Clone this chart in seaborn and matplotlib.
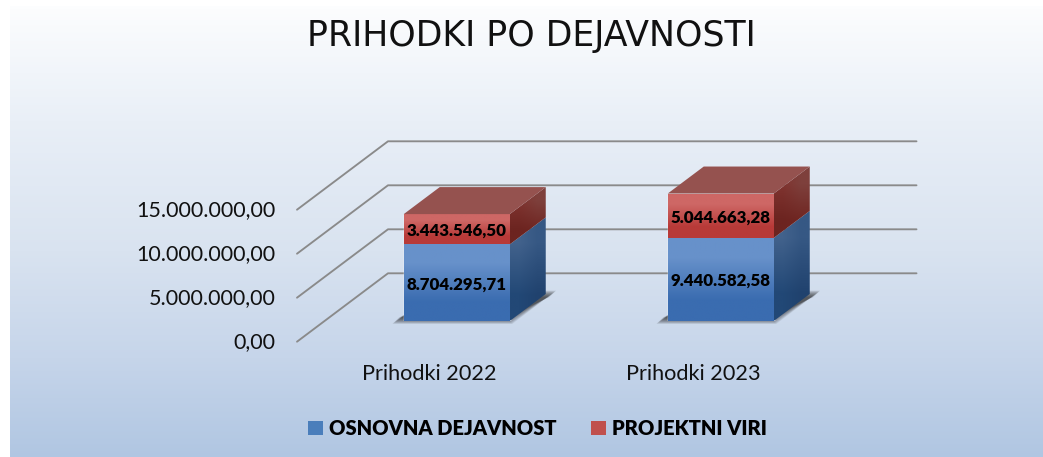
import numpy as np
import pandas as pd
import matplotlib
matplotlib.use('Agg')
import matplotlib.pyplot as plt
from matplotlib.patches import Polygon
from matplotlib.transforms import ScaledTranslation
import seaborn as sns

years = ['Prihodki 2022', 'Prihodki 2023']
osnovna = [8704295.71, 9440582.58]
projektni = [3443546.50, 5044663.28]
osnovna_txt = ['8.704.295,71', '9.440.582,58']
projektni_txt = ['3.443.546,50', '5.044.663,28']
y_ticks = [0, 5000000, 10000000, 15000000]
y_labels = ['0,00', '5.000.000,00', '10.000.000,00', '15.000.000,00']

sns.set_theme(style='white')
plt.rcParams['font.family'] = ['Lato', 'DejaVu Sans']

W, H = 1043, 457
fig = plt.figure(figsize=(W / 100, H / 100), dpi=100)

# background gradient
bg = fig.add_axes([0, 0, 1, 1], zorder=-1)
bg.axis('off')
rows = np.arange(H)
stops_y = [0, 8, 120, 250, 357, 457]
stops_c = np.array([[255, 255, 255], [252, 253, 254], [233, 239, 247],
                    [217, 227, 240], [198, 213, 234], [176, 198, 226]]) / 255
grad = np.stack([np.interp(rows, stops_y, stops_c[:, i]) for i in range(3)], axis=1)
grad = np.repeat(grad[:, None, :], W, axis=1)
grad[:, :10, :] = 1
grad[:6, :, :] = 1
bg.imshow(grad, aspect='auto')

# plot box: left/right/bottom/top in pixels
L, R, B, T = 285, 920, 321, 145
ax = fig.add_axes([L / W, 1 - B / H, (R - L) / W, (B - T) / H])
PX_X = 1 / 264.0
PX_Y = 5000000 / 44.0
x0 = (L - 456.75) * PX_X
x1 = (R - 456.75) * PX_X

sns.barplot(x=years, y=osnovna, color='#4a7ebb', saturation=1, width=0.4015,
            label='OSNOVNA DEJAVNOST', ax=ax, zorder=3)
sns.barplot(x=years, y=projektni, bottom=osnovna, color='#c0504d', saturation=1, width=0.4015,
            label='PROJEKTNI VIRI', ax=ax, zorder=3)


def shade(poly, c_tl, c_tr, c_bl, c_br, z):
    xs = [p[0] for p in poly]
    ys = [p[1] for p in poly]
    arr = np.array([[c_tl, c_tr], [c_bl, c_br]], dtype=float) / 255
    im = ax.imshow(arr, extent=[min(xs), max(xs), min(ys), max(ys)], aspect='auto',
                   interpolation='bilinear', origin='upper', zorder=z)
    clip = Polygon(poly, closed=True, transform=ax.transData)
    im.set_clip_path(clip)
    im.set_clip_on(True)


dx, dy = 36 * PX_X, 27 * PX_Y
blue_bars = ax.containers[0]
red_bars = ax.containers[1]

for i in range(len(years)):
    b = blue_bars[i]
    r = red_bars[i]
    x_l, x_r = b.get_x(), b.get_x() + b.get_width()
    v1 = b.get_height()
    v2 = v1 + r.get_height()
    z = 3 + i

    # soft shadow on the floor
    for grow in np.arange(2.5, -4.5, -0.5):
        g_x, g_y = grow * PX_X, grow * PX_Y
        ax.fill([x_l - 9 * PX_X - g_x, x_r + g_x, x_r + dx + 8 * PX_X + g_x, x_l + dx],
                [-0.5 * PX_Y - g_y, -0.5 * PX_Y - g_y, dy + 1 * PX_Y + g_y, dy + 1 * PX_Y + g_y],
                color='#202020', alpha=0.08, lw=0, zorder=2, clip_on=False)

    # fronts
    shade([(x_l, 0), (x_r, 0), (x_r, v1), (x_l, v1)],
          (103, 145, 202), (103, 145, 202), (58, 108, 176), (58, 108, 176), z + 0.1)
    shade([(x_l, v1), (x_r, v1), (x_r, v2), (x_l, v2)],
          (206, 103, 101), (206, 103, 101), (184, 58, 56), (184, 58, 56), z + 0.1)
    # sides
    shade([(x_r, 0), (x_r + dx, dy), (x_r + dx, v1 + dy), (x_r, v1)],
          (66, 98, 140), (54, 88, 132), (34, 72, 118), (32, 66, 110), z + 0.1)
    shade([(x_r, v1), (x_r + dx, v1 + dy), (x_r + dx, v2 + dy), (x_r, v2)],
          (128, 52, 48), (126, 64, 60), (108, 36, 32), (112, 38, 34), z + 0.1)
    # top
    ax.fill([x_l, x_r, x_r + dx, x_l + dx], [v2, v2, v2 + dy, v2 + dy],
            color='#95524f', lw=0, zorder=z + 0.1)

    ax.text(i, v1 * 0.5 - 1.5 * PX_Y, osnovna_txt[i], ha='center', va='center',
            fontsize=12.2, fontweight='heavy', color='black', zorder=9)
    ax.text(i, v1 + (v2 - v1) * 0.5 - 1.5 * PX_Y, projektni_txt[i], ha='center', va='center',
            fontsize=12.2, fontweight='heavy', color='black', zorder=9)

# walls: back grid and diagonal floor lines
for v in y_ticks:
    back = v + 47.7 * PX_Y
    front = v - 20.7 * PX_Y
    ax.plot([(297 - 456.75) * PX_X, (388 - 456.75) * PX_X, (916.5 - 456.75) * PX_X],
            [front, back, back], color='#8a8a8a', lw=1.35, zorder=1, clip_on=False)

ax.set_xlim(x0, x1)
ax.set_ylim(0, 20000000)
ax.set_yticks(y_ticks)
ax.set_yticklabels(y_labels, fontsize=15.5, color='#111111')
ax.set_xticks(range(len(years)))
ax.set_xticklabels(years, fontsize=15.6, color='#111111')
ax.tick_params(axis='y', length=0, pad=7)
ax.tick_params(axis='x', length=0, pad=31)
ax.patch.set_alpha(0)
sns.despine(ax=ax, left=True, bottom=True)

off_y = ScaledTranslation(0, -19.5 / 100, fig.dpi_scale_trans)
for lab in ax.get_yticklabels():
    lab.set_transform(lab.get_transform() + off_y)
off_x = ScaledTranslation(-27 / 100, 0, fig.dpi_scale_trans)
for lab in ax.get_xticklabels():
    lab.set_transform(lab.get_transform() + off_x)

leg = ax.legend(loc='center', bbox_to_anchor=(537.5 / W, 1 - 428.5 / H), bbox_transform=fig.transFigure,
                ncol=2, frameon=False, handlelength=0.75, handleheight=0.75, handletextpad=0.3,
                columnspacing=1.7, borderpad=0, prop={'family': 'Lato', 'weight': 'heavy', 'size': 14.5})
for h in leg.legend_handles:
    h.set_edgecolor('none')
for t in leg.get_texts():
    t.set_color('black')

fig.text(531 / W, 1 - 36 / H, 'PRIHODKI PO DEJAVNOSTI', ha='center', va='center',
         fontsize=25, family='DejaVu Sans', color='#111111')

plt.savefig('out.png', dpi=100)
